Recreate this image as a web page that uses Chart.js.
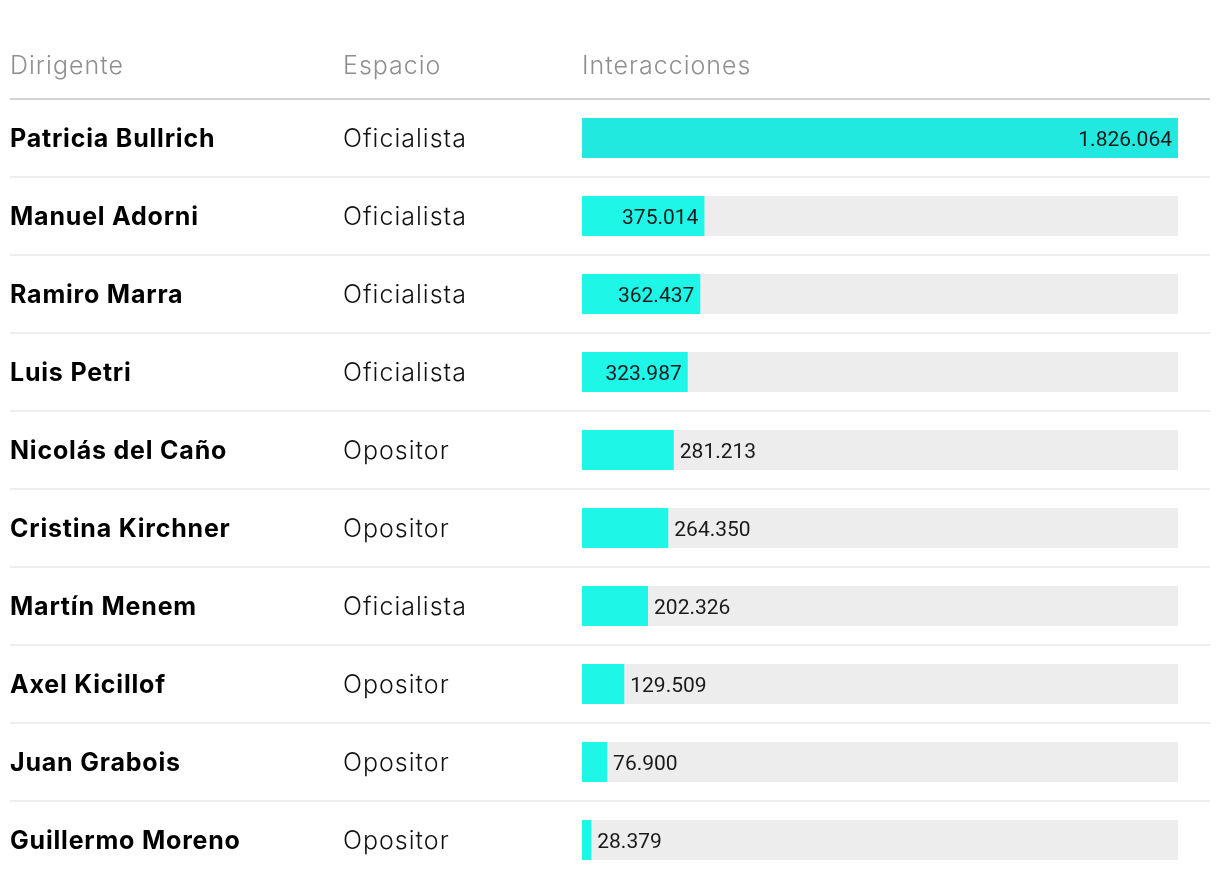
<!DOCTYPE html>
<html>
<head>
<meta charset="utf-8">
<script src="https://cdn.jsdelivr.net/npm/chart.js@4"></script>
<style>
  html, body { margin: 0; padding: 0; background: #fff; }
  #wrap { width: 1220px; height: 888px; position: relative; }
</style>
</head>
<body>
<div id="wrap"><canvas id="chart"></canvas></div>
<script>
// Data
const dirigentes = ['Patricia Bullrich', 'Manuel Adorni', 'Ramiro Marra', 'Luis Petri', 'Nicolás del Caño',
    'Cristina Kirchner', 'Martín Menem', 'Axel Kicillof', 'Juan Grabois', 'Guillermo Moreno'];
const espacios = ['Oficialista', 'Oficialista', 'Oficialista', 'Oficialista', 'Opositor',
    'Opositor', 'Oficialista', 'Opositor', 'Opositor', 'Opositor'];
const interacciones = [1826064, 375014, 362437, 323987, 281213, 264350, 202326, 129509, 76900, 28379];
const headers = ['Dirigente', 'Espacio', 'Interacciones'];

const maxValue = Math.max(...interacciones);
const fmt = n => n.toString().replace(/\B(?=(\d{3})+(?!\d))/g, '.');

// Table text, separators and value labels
const tablePlugin = {
    id: 'tablePlugin',
    afterDatasetsDraw(chart) {
        const ctx = chart.ctx;
        const y = chart.scales.y;
        const area = chart.chartArea;
        const meta = chart.getDatasetMeta(1);
        ctx.save();

        // header
        ctx.fillStyle = '#8f8f8f';
        ctx.font = '300 25px Inter';
        ctx.letterSpacing = '1px';
        ctx.textBaseline = 'alphabetic';
        ctx.textAlign = 'left';
        ctx.fillText(headers[0], 10, 74);
        ctx.fillText(headers[1], 343, 74);
        ctx.fillText(headers[2], area.left, 74);

        ctx.fillStyle = '#d3d3d3';
        ctx.fillRect(10, area.top - 1, 1200, 2);

        dirigentes.forEach((name, i) => {
            const cy = y.getPixelForValue(i);
            if (i > 0) {
                ctx.fillStyle = '#eeeeee';
                ctx.fillRect(10, Math.round(cy - 39) - 1, 1200, 2);
            }
            ctx.fillStyle = '#000';
            ctx.font = 'bold 25px Inter';
            ctx.letterSpacing = '0.8px';
            ctx.textAlign = 'left';
            ctx.fillText(name, 10, cy + 9);
            ctx.font = '300 25px Inter';
            ctx.letterSpacing = '1px';
            ctx.fillStyle = '#111';
            ctx.fillText(espacios[i], 343, cy + 9);

            // value label
            const bar = meta.data[i];
            const label = fmt(interacciones[i]);
            ctx.font = '21px Roboto';
            ctx.letterSpacing = '0px';
            ctx.fillStyle = '#1a1a1a';
            const tw = ctx.measureText(label).width;
            const bw = bar.x - area.left;
            if (bw >= tw + 16) {
                ctx.textAlign = 'right';
                ctx.fillText(label, bar.x - 6, cy + 8);
            } else {
                ctx.textAlign = 'left';
                ctx.fillText(label, bar.x + 6, cy + 8);
            }
        });
        ctx.restore();
    }
};

new Chart(document.getElementById('chart'), {
    type: 'bar',
    data: {
        labels: dirigentes,
        datasets: [
            {
                data: dirigentes.map(() => maxValue),
                backgroundColor: '#ededed',
                categoryPercentage: 1,
                barPercentage: 40 / 78,
                grouped: false,
                order: 2
            },
            {
                data: interacciones,
                backgroundColor: ctx => ctx.dataIndex === 0 ? '#22e9e0' : '#1ef7e7',
                categoryPercentage: 1,
                barPercentage: 40 / 78,
                grouped: false,
                order: 1
            }
        ]
    },
    options: {
        indexAxis: 'y',
        responsive: true,
        maintainAspectRatio: false,
        animation: false,
        layout: { padding: { top: 99, left: 582, right: 42, bottom: 9 } },
        plugins: {
            legend: { display: false },
            tooltip: { enabled: false }
        },
        scales: {
            x: { display: false, min: 0, max: maxValue },
            y: { display: false }
        }
    },
    plugins: [tablePlugin]
});
</script>
</body>
</html>
